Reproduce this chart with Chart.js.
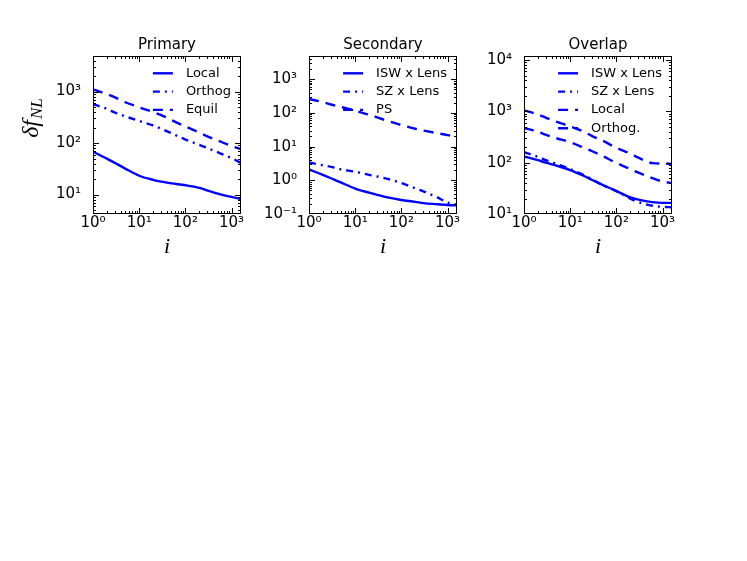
<!DOCTYPE html>
<html>
<head>
<meta charset="utf-8">
<script src="https://cdn.jsdelivr.net/npm/chart.js@4.4.0/dist/chart.umd.min.js"></script>
<style>
  html, body { margin: 0; padding: 0; background: #fff; }
  #wrap { position: relative; width: 747px; height: 561px; overflow: hidden; }
  .panel { position: absolute; top: 0; }
</style>
</head>
<body>
<div id="wrap">
  <canvas id="c1" class="panel" width="250" height="280" style="left:0px"></canvas>
  <canvas id="c2" class="panel" width="210" height="280" style="left:256px"></canvas>
  <canvas id="c3" class="panel" width="210" height="280" style="left:470px"></canvas>
</div>
<script>
// shared x values (i)
const iVals = [1, 2, 3, 5, 10, 20, 30, 50, 100, 200, 300, 600, 1000, 1600];

// Primary panel
const primaryLocal  = [68, 50, 41, 32, 23.2, 19.3, 17.8, 16.5, 15.2, 13.5, 12, 10, 9, 8.2];
const primaryOrthog = [570, 460, 390, 330, 268, 220, 190, 155, 117, 92, 80, 62, 51, 41];
const primaryEquil  = [1100, 890, 770, 620, 495, 400, 350, 280, 210, 160, 135, 105, 88, 76];

// Secondary panel
const secondaryIswLens = [2.1, 1.45, 1.15, 0.85, 0.57, 0.43, 0.37, 0.31, 0.26, 0.23, 0.21, 0.195, 0.185, 0.18];
const secondarySzLens  = [3.4, 2.8, 2.5, 2.1, 1.8, 1.45, 1.3, 1.1, 0.83, 0.58, 0.47, 0.31, 0.22, 0.19];
const secondaryPS      = [260, 210, 178, 150, 117, 88, 74, 58, 44, 34, 30, 25, 22, 20.5];

// Overlap panel
const overlapIswLens = [132, 112, 100, 88, 72, 55, 46, 37, 28, 21, 19, 17, 16.5, 16.5];
const overlapSzLens  = [160, 130, 112, 95, 75, 57, 47, 37, 28, 20, 17, 14.5, 13.8, 13.5];
const overlapLocal   = [475, 400, 350, 300, 250, 195, 167, 135, 99, 75, 64, 50, 43, 40];
const overlapOrthog  = [1050, 870, 750, 630, 510, 400, 330, 270, 195, 150, 125, 98, 96, 95];

// axis ranges
const xRange = [1, 1600];
const primaryYRange = [4.2, 4900];
const secondaryYRange = [0.1, 4900];
const overlapYRange = [10, 12000];

const SOLID = [];
const DASHED = [10, 7];
const DASHDOT = [7, 5, 2, 5];
const BLUE = '#0000ff';
const SUP = { '0': '\u2070', '1': '\u00b9', '2': '\u00b2', '3': '\u00b3', '4': '\u2074', '-': '\u207b' };

function mantissa(v) {
  const e = Math.floor(Math.log10(v) + 1e-9);
  return v / Math.pow(10, e);
}

function powLabel(v) {
  const m = mantissa(v);
  if (Math.abs(m - 1) > 1e-6) return '';
  const e = String(Math.round(Math.log10(v)));
  return '10' + e.split('').map(c => SUP[c]).join('');
}

// frame + inward ticks on all four sides
const frameTicks = {
  id: 'frameTicks',
  afterDraw(chart) {
    const { ctx, chartArea: a, scales } = chart;
    ctx.save();
    ctx.strokeStyle = '#000';
    ctx.lineWidth = 1;
    ctx.setLineDash([]);
    ctx.strokeRect(a.left + 0.5, a.top + 0.5, a.right - a.left - 1, a.bottom - a.top - 1);
    ctx.beginPath();
    scales.x.ticks.forEach(t => {
      const m = mantissa(t.value);
      if (Math.abs(m - Math.round(m)) > 1e-6) return;
      const len = Math.round(m) === 1 ? 6 : 3;
      const p = Math.round(scales.x.getPixelForValue(t.value)) + 0.5;
      if (p < a.left || p > a.right) return;
      ctx.moveTo(p, a.bottom); ctx.lineTo(p, a.bottom - len);
      ctx.moveTo(p, a.top); ctx.lineTo(p, a.top + len);
    });
    scales.y.ticks.forEach(t => {
      const m = mantissa(t.value);
      if (Math.abs(m - Math.round(m)) > 1e-6) return;
      const len = Math.round(m) === 1 ? 6 : 3;
      const p = Math.round(scales.y.getPixelForValue(t.value)) + 0.5;
      if (p < a.top || p > a.bottom) return;
      ctx.moveTo(a.left, p); ctx.lineTo(a.left + len, p);
      ctx.moveTo(a.right, p); ctx.lineTo(a.right - len, p);
    });
    ctx.stroke();

    // axis titles
    ctx.fillStyle = '#000';
    ctx.font = 'italic 22px "Liberation Serif"';
    ctx.textAlign = 'center';
    ctx.textBaseline = 'alphabetic';
    ctx.fillText('i', (a.left + a.right) / 2, 253);
    if (chart.options.plugins.frameTicks.yTitle) {
      ctx.translate(34, 118);
      ctx.rotate(-Math.PI / 2);
      ctx.textAlign = 'left';
      const main = '\u03b4f', sub = 'NL';
      ctx.font = 'italic 24px "Liberation Serif"';
      const w1 = ctx.measureText(main).width;
      ctx.font = 'italic 17px "Liberation Serif"';
      const w2 = ctx.measureText(sub).width;
      const x0 = -(w1 + w2 + 1) / 2;
      ctx.font = 'italic 24px "Liberation Serif"';
      ctx.fillText(main, x0, 4);
      ctx.font = 'italic 17px "Liberation Serif"';
      ctx.fillText(sub, x0 + w1 + 1, 8);
    }
    ctx.restore();
  }
};

// legend drawn inside the plot, top right, no frame
const insideLegend = {
  id: 'insideLegend',
  afterDatasetsDraw(chart) {
    const { ctx, chartArea: a } = chart;
    const sets = chart.data.datasets;
    ctx.save();
    ctx.font = '13px "DejaVu Sans"';
    const w = Math.max(...sets.map(d => ctx.measureText(d.label).width));
    const textX = a.right - 10 - w;
    sets.forEach((d, k) => {
      const y = a.top + 17.3 + 18.3 * k;
      ctx.strokeStyle = d.borderColor;
      ctx.lineWidth = d.borderWidth;
      ctx.setLineDash(d.borderDash || []);
      ctx.beginPath();
      ctx.moveTo(textX - 33, y);
      ctx.lineTo(textX - 13, y);
      ctx.stroke();
      ctx.setLineDash([]);
      ctx.fillStyle = '#000';
      ctx.textBaseline = 'middle';
      ctx.textAlign = 'left';
      ctx.fillText(d.label, textX, y);
    });
    ctx.restore();
  }
};

function makeDataset(label, values, dash) {
  return {
    label: label,
    data: iVals.map((x, k) => ({ x: x, y: values[k] })),
    borderColor: BLUE,
    backgroundColor: BLUE,
    borderWidth: 2.4,
    borderDash: dash,
    pointRadius: 0,
    fill: false,
    cubicInterpolationMode: 'monotone'
  };
}

function makeChart(canvasId, title, yRange, yWidth, padRight, datasets, yTitle) {
  const tickFont = { family: 'DejaVu Sans', size: 15 };
  return new Chart(document.getElementById(canvasId), {
    type: 'line',
    data: { datasets: datasets },
    options: {
      responsive: false,
      animation: false,
      events: [],
      layout: { padding: { left: 0, right: padRight, top: 0, bottom: 0 } },
      plugins: {
        legend: { display: false },
        tooltip: { enabled: false },
        title: {
          display: true, text: title, fullSize: false, color: '#000',
          font: { family: 'DejaVu Sans', size: 15, weight: 'normal', lineHeight: 1.2 },
          padding: { top: 36, bottom: 2 }
        },
        frameTicks: { yTitle: yTitle }
      },
      scales: {
        x: {
          type: 'logarithmic', min: xRange[0], max: xRange[1],
          grid: { display: false }, border: { display: false },
          ticks: { autoSkip: false, maxRotation: 0, minRotation: 0, padding: -8, color: '#000', font: tickFont, callback: v => powLabel(v) },
          afterFit: s => { s.height = 66; }
        },
        y: {
          type: 'logarithmic', min: yRange[0], max: yRange[1],
          grid: { display: false }, border: { display: false },
          ticks: { autoSkip: false, padding: 4, color: '#000', font: tickFont, callback: v => powLabel(v) },
          afterFit: s => { s.width = yWidth; }
        }
      }
    },
    plugins: [insideLegend, frameTicks]
  });
}

makeChart('c1', 'Primary', primaryYRange, 93, 9, [
  makeDataset('Local', primaryLocal, SOLID),
  makeDataset('Orthog', primaryOrthog, DASHDOT),
  makeDataset('Equil', primaryEquil, DASHED)
], true);

makeChart('c2', 'Secondary', secondaryYRange, 53, 9, [
  makeDataset('ISW x Lens', secondaryIswLens, SOLID),
  makeDataset('SZ x Lens', secondarySzLens, DASHDOT),
  makeDataset('PS', secondaryPS, DASHED)
], false);

makeChart('c3', 'Overlap', overlapYRange, 54, 8, [
  makeDataset('ISW x Lens', overlapIswLens, SOLID),
  makeDataset('SZ x Lens', overlapSzLens, DASHDOT),
  makeDataset('Local', overlapLocal, DASHED),
  makeDataset('Orthog.', overlapOrthog, DASHED)
], false);
</script>
</body>
</html>
